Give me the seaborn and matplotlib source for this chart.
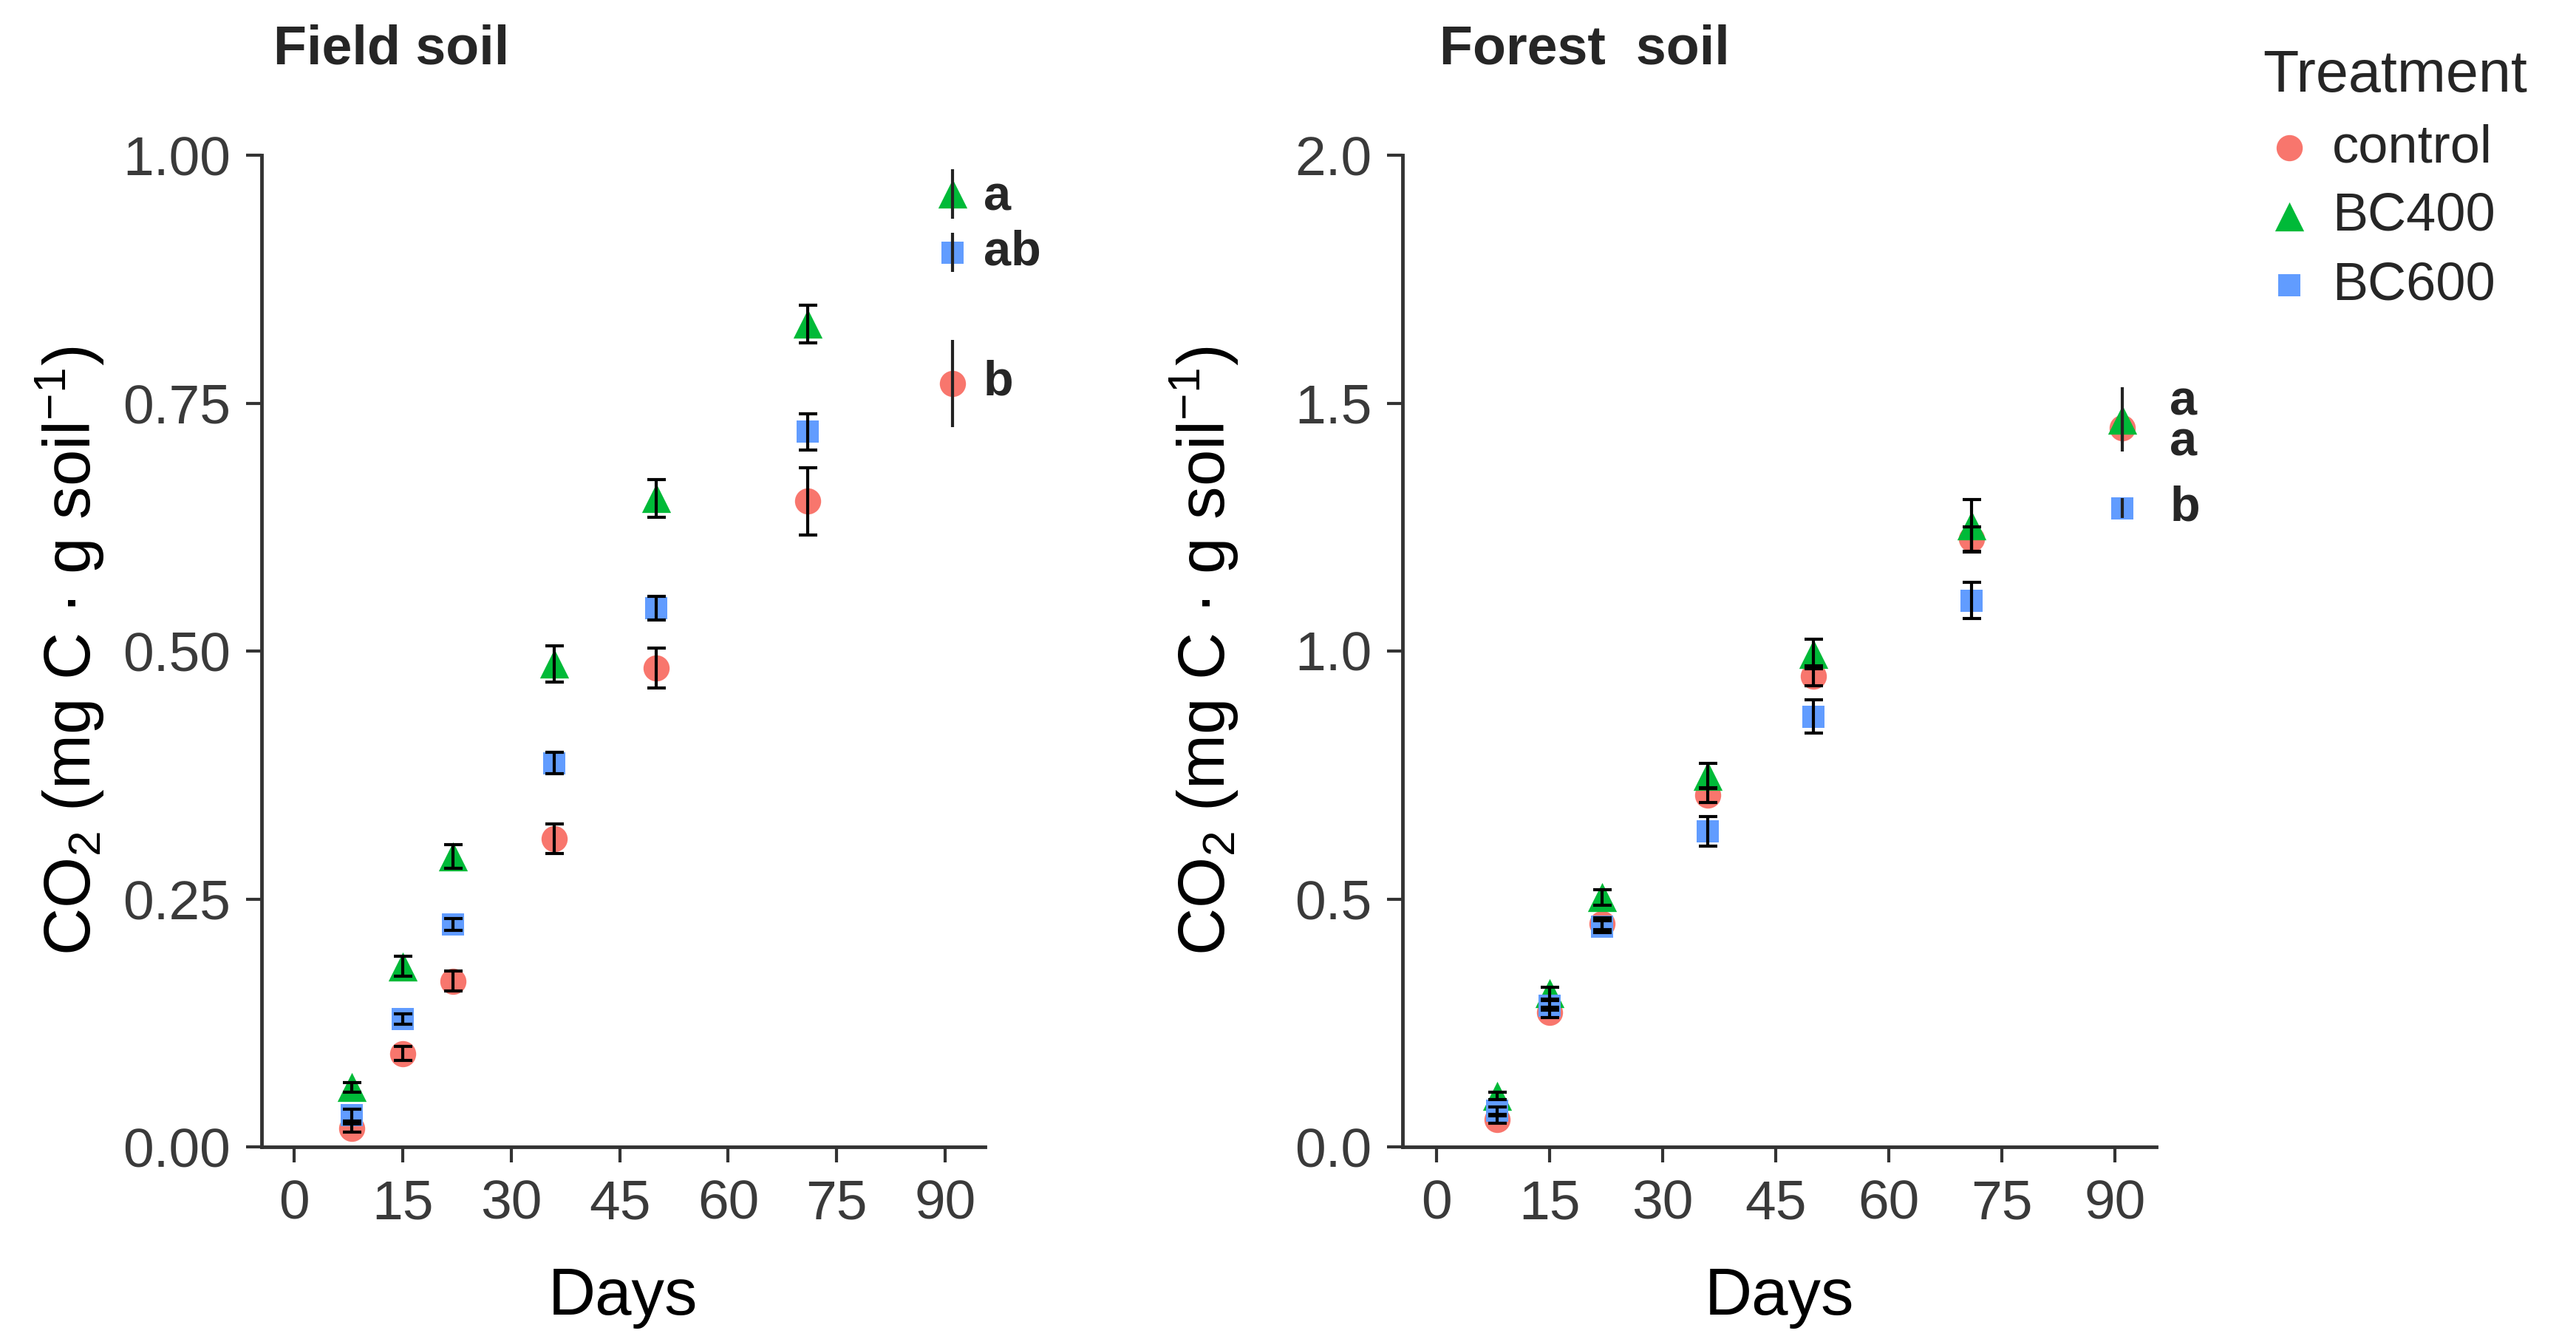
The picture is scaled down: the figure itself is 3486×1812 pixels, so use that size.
import numpy as np
import pandas as pd
import matplotlib
matplotlib.use("Agg")
import matplotlib.pyplot as plt
from matplotlib.ticker import FormatStrFormatter
import seaborn as sbn

# sampling days and treatments
days = [8, 15, 22, 36, 50, 71, 91]
treatments = ["control", "BC400", "BC600"]

# Field soil: cumulative CO2 (mg C g soil-1) and error
field_control = [0.019, 0.094, 0.167, 0.311, 0.483, 0.651, 0.770]
field_bc400 = [0.060, 0.182, 0.293, 0.487, 0.654, 0.830, 0.961]
field_bc600 = [0.032, 0.129, 0.224, 0.387, 0.543, 0.721, 0.902]
field_control_err = [0.004, 0.007, 0.010, 0.015, 0.020, 0.034, 0.044]
field_bc400_err = [0.005, 0.010, 0.012, 0.018, 0.019, 0.019, 0.025]
field_bc600_err = [0.006, 0.005, 0.006, 0.011, 0.012, 0.018, 0.020]
field_letters = ["b", "a", "ab"]
field_letter_y = [0.771, 0.957, 0.902]

# Forest soil
forest_control = [0.055, 0.271, 0.450, 0.709, 0.950, 1.226, 1.450]
forest_bc400 = [0.103, 0.310, 0.503, 0.748, 0.994, 1.253, 1.467]
forest_bc600 = [0.073, 0.285, 0.444, 0.636, 0.868, 1.102, 1.288]
forest_control_err = [0.008, 0.010, 0.012, 0.015, 0.020, 0.025, 0.030]
forest_bc400_err = [0.008, 0.012, 0.015, 0.025, 0.030, 0.053, 0.065]
forest_bc600_err = [0.008, 0.010, 0.012, 0.030, 0.033, 0.036, 0.020]
forest_letters = ["a", "a", "b"]
forest_letter_y = [1.419, 1.501, 1.288]


def long_table(means, errs):
    rows = []
    for t, m_list, e_list in zip(treatments, means, errs):
        for d, m, e in zip(days, m_list, e_list):
            rows.append({"Days": d, "CO2": m, "se": e, "Treatment": t})
    return pd.DataFrame(rows)


field = long_table([field_control, field_bc400, field_bc600],
                   [field_control_err, field_bc400_err, field_bc600_err])
forest = long_table([forest_control, forest_bc400, forest_bc600],
                    [forest_control_err, forest_bc400_err, forest_bc600_err])

sbn.set_theme(style="ticks")
plt.rcParams["font.family"] = ["Liberation Sans", "DejaVu Sans"]
plt.rcParams["mathtext.fontset"] = "custom"
plt.rcParams["mathtext.rm"] = "Liberation Sans"
plt.rcParams["mathtext.it"] = "Liberation Sans:italic"
plt.rcParams["mathtext.bf"] = "Liberation Sans:bold"

palette = {"control": "#F8766D", "BC400": "#00BA38", "BC600": "#619CFF"}
markers = {"control": "o", "BC400": "^", "BC600": "s"}
msize = {"control": 650, "BC400": 800, "BC600": 450}
axis_col = "#333333"

W, H = 3487, 1812
fig = plt.figure(figsize=(W / 100, H / 100), dpi=100)
ax1 = fig.add_axes([354 / W, 1 - 1552 / H, (1333 - 354) / W, (1552 - 210) / H])
ax2 = fig.add_axes([1898 / W, 1 - 1552 / H, (2918 - 1898) / W, (1552 - 210) / H])

ylab = "CO$_2$ (mg C · g soil$^{-1}$)"

panels = [
    (ax1, field, "Field soil", 0.016, 1.0, "%.2f", field_letters, field_letter_y, 95.3),
    (ax2, forest, "Forest  soil", 0.049, 2.0, "%.1f", forest_letters, forest_letter_y, 97.3),
]

for ax, df, title, tx, ymax, fmt, letters, letter_y, lx in panels:
    for t in treatments:
        sub = df[df["Treatment"] == t]
        sbn.scatterplot(data=sub, x="Days", y="CO2", color=palette[t],
                        marker=markers[t], s=msize[t], linewidth=0,
                        label=t, ax=ax, zorder=2)
    inner = df[df["Days"] < 91]
    ax.errorbar(inner["Days"], inner["CO2"], yerr=inner["se"], fmt="none",
                ecolor="black", elinewidth=3, capsize=9, capthick=3, zorder=3)
    last = df[df["Days"] == 91]
    ax.errorbar(last["Days"], last["CO2"], yerr=last["se"], fmt="none",
                ecolor="#222222", elinewidth=3, capsize=0, zorder=3)

    for lab, y in zip(letters, letter_y):
        ax.text(lx, y, lab, fontsize=48, fontweight="bold", ha="left", va="center")

    ax.set_xlim(-4.5, 95.5)
    ax.set_ylim(0, ymax)
    ax.set_xticks([0, 15, 30, 45, 60, 75, 90])
    ax.set_yticks(np.linspace(0, ymax, 5))
    ax.yaxis.set_major_formatter(FormatStrFormatter(fmt))
    sbn.despine(ax=ax)
    for s in ["left", "bottom"]:
        ax.spines[s].set_color(axis_col)
        ax.spines[s].set_linewidth(3.5)
    ax.tick_params(length=15, width=3, color=axis_col, labelcolor="#3A3A3A",
                   labelsize=54)
    ax.tick_params(axis="x", pad=16)
    ax.tick_params(axis="y", pad=15)
    ax.set_xlabel("Days", fontsize=64, color="black", labelpad=36)
    ax.set_ylabel(ylab, fontsize=64, color="black")
    ax.yaxis.set_label_coords(-0.215, 0.5)
    ax.text(tx, 1.092, title, transform=ax.transAxes, fontsize=53,
            fontweight="bold", ha="left", va="baseline")
    ax.get_legend().remove()

handles, labels = ax2.get_legend_handles_labels()
leg = fig.legend(handles, labels, loc="upper left",
                 bbox_to_anchor=(3062 / W, 1 - 66 / H), frameon=False,
                 title="Treatment", fontsize=52, title_fontsize=57,
                 handlelength=1.0, handletextpad=0.3, labelspacing=0.36,
                 borderpad=0, borderaxespad=0)
leg._legend_box.align = "left"

fig.savefig("out.png", dpi=100, facecolor="white")
